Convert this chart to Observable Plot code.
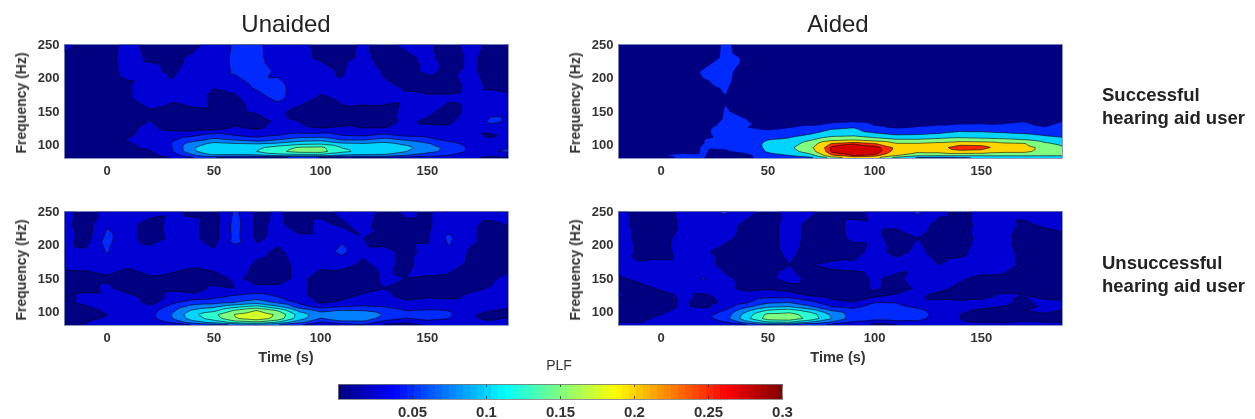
<!DOCTYPE html>
<html><head><meta charset="utf-8">
<script src="https://cdn.jsdelivr.net/npm/d3@7"></script>
<script src="https://cdn.jsdelivr.net/npm/@observablehq/plot@0.6"></script>
<style>
html,body{margin:0;padding:0;background:#fff;overflow:hidden}
#page{position:relative;width:1255px;height:419px;font-family:"Liberation Sans",Arial,sans-serif;color:#222;overflow:hidden}
#page svg{position:absolute;filter:blur(0.45px);background:transparent}
.t{position:absolute;white-space:nowrap;filter:blur(0.25px)}
.title{font-size:24px;transform:translateX(-50%);color:#222}
.side{font-size:18.5px;font-weight:bold;line-height:23px;color:#222}
.xl{font-size:14.5px;font-weight:bold;transform:translateX(-50%);color:#333}
.yl{font-size:14px;font-weight:bold;transform:translate(-50%,-50%) rotate(-90deg);color:#333}
.plf{font-size:14px;transform:translateX(-50%);color:#333}
</style></head><body><div id="page"></div>
<script>
const times=[-20,-10,0,10,20,30,40,50,60,70,80,90,100,110,120,130,140,150,160,170,180,190];
const freqs=[250,230,210,190,170,150,135,125,115,108,102,96,90,85,80];
const xTicks=[0,50,100,150];
const yTicks=[100,150,200,250];
const barTicks=[0.05,0.1,0.15,0.2,0.25,0.3];
const levelsUsual=[0,25,50,75,100,125,150,175];
const levelsAided=[0,50,100,150,200,250,275];
const linesAided=[100,150,200,250,275];
const unaidedSuccessful=[
[30,18,20,30,20,18,18,35,55,55,38,30,20,18,28,20,30,28,20,30,22,28],
[22,15,20,32,22,18,30,30,58,56,38,30,22,18,30,18,20,30,18,28,20,22],
[15,15,18,32,32,20,36,30,56,70,42,30,35,22,45,22,20,28,22,28,20,18],
[15,12,15,22,48,28,42,28,32,58,60,32,32,28,42,28,22,18,18,30,22,18],
[12,12,15,22,42,30,40,18,22,38,58,35,22,28,30,32,28,28,28,30,30,28],
[10,10,12,15,22,15,18,20,22,28,30,18,15,22,20,18,30,30,18,30,45,45],
[10,10,12,18,26,14,12,14,20,15,30,25,14,15,18,20,28,22,22,35,55,45],
[12,12,15,22,30,18,15,14,28,22,30,30,25,30,25,25,30,30,28,28,40,40],
[12,12,15,22,38,38,45,58,48,40,48,58,60,48,45,55,42,42,30,30,22,30],
[10,10,15,28,38,45,62,82,72,60,75,88,92,72,72,85,72,58,42,30,28,28],
[10,12,15,22,35,50,88,108,102,100,105,118,122,105,102,108,95,78,60,40,32,38],
[12,10,15,22,30,48,98,118,115,120,140,155,158,125,118,118,108,85,70,45,42,52],
[10,10,12,18,22,45,95,118,115,125,145,158,160,130,118,115,100,82,68,45,48,55],
[8,8,10,14,18,38,72,102,100,102,112,118,115,102,100,98,78,62,50,35,28,35],
[8,8,8,12,14,22,40,30,18,15,20,25,22,20,22,25,28,30,30,25,20,18]];
const aidedSuccessful=[
[20,20,20,20,20,58,30,20,20,20,20,20,20,20,20,20,20,20,20,20,20,20],
[20,20,20,20,20,60,45,20,20,20,20,20,20,20,20,20,20,20,20,20,20,20],
[20,20,20,20,56,62,30,20,20,20,20,20,20,20,20,20,20,20,20,20,20,20],
[20,20,20,20,45,58,20,20,20,20,20,20,20,20,20,20,20,20,20,20,20,20],
[20,20,20,20,25,48,20,20,20,20,20,20,20,20,20,20,20,20,20,20,20,20],
[20,20,20,20,20,52,42,20,20,20,20,20,20,20,20,20,20,20,20,20,20,30],
[20,20,20,20,35,55,52,30,30,30,35,45,30,30,30,30,30,30,35,48,25,55],
[20,20,20,30,45,60,50,45,50,62,95,105,60,45,55,65,78,80,72,70,55,62],
[25,28,35,40,45,58,58,62,82,105,135,140,118,100,102,110,125,120,115,108,95,85],
[20,25,30,40,50,55,70,100,112,145,185,195,175,155,155,165,170,165,160,150,125,110],
[15,20,30,40,50,52,75,110,125,175,255,278,255,205,205,215,235,232,210,205,160,130],
[15,15,25,40,52,55,70,110,140,190,285,295,290,245,215,235,275,270,225,215,190,150],
[15,15,25,42,52,42,60,105,128,175,280,298,292,235,210,215,235,230,210,210,180,160],
[15,15,48,56,52,35,35,85,105,135,255,285,275,215,170,165,165,165,165,165,160,155],
[15,15,30,52,50,30,35,55,55,75,150,210,200,110,65,60,70,80,90,95,110,155]];
const unaidedUnsuccessful=[
[32,18,32,30,32,28,22,18,55,20,28,18,20,30,35,18,30,22,30,38,40,50],
[30,15,48,30,18,30,30,15,60,20,30,15,30,22,32,15,20,20,42,30,18,28],
[35,15,58,30,18,28,30,15,58,22,30,30,30,45,25,18,22,22,55,30,15,20],
[32,28,52,35,32,35,32,28,40,30,22,32,35,58,28,30,20,30,48,22,15,18],
[30,30,35,28,38,32,28,35,35,22,18,30,28,30,22,30,20,35,38,18,15,18],
[15,18,22,15,22,20,15,14,30,18,18,30,18,15,15,28,25,22,18,18,20,40],
[15,18,30,15,18,22,15,30,25,30,30,30,18,15,18,25,15,25,14,18,28,45],
[22,30,28,30,14,30,30,40,50,58,45,30,15,18,28,32,12,20,15,30,35,42],
[18,35,35,40,15,42,60,62,72,85,68,42,20,28,42,38,30,35,35,35,38,45],
[25,22,38,25,30,58,85,95,118,135,105,62,40,50,52,50,40,42,45,35,32,28],
[20,15,30,25,38,68,105,120,155,178,150,95,70,78,75,62,50,52,50,30,25,20],
[12,15,25,25,42,75,118,145,178,192,172,115,85,98,98,72,55,60,55,28,18,18],
[15,22,28,30,40,72,112,135,172,188,165,110,72,92,92,60,48,58,50,28,22,30],
[18,25,30,32,35,58,90,112,140,150,125,85,50,65,68,40,28,40,35,30,28,32],
[18,25,30,30,28,20,40,50,60,65,58,42,18,30,40,18,15,22,28,30,30,30]];
const aidedUnsuccessful=[
[30,18,18,30,30,55,30,20,30,30,18,18,32,35,55,30,20,30,30,30,35,55],
[35,15,15,28,32,30,22,15,35,18,18,30,28,28,35,18,18,30,32,22,28,40],
[42,15,15,35,30,30,18,15,35,18,15,30,30,18,25,15,15,32,30,18,15,18],
[48,18,18,32,28,18,15,15,32,15,18,15,35,18,30,18,20,35,35,18,15,15],
[35,28,30,30,35,18,15,15,25,25,28,30,32,35,28,25,32,38,40,18,15,15],
[22,30,35,38,52,30,18,20,35,18,18,18,28,20,35,35,28,20,18,18,18,18],
[18,18,28,30,38,30,20,22,15,15,15,15,28,15,28,30,20,18,18,20,15,18],
[30,15,18,28,22,32,32,40,38,22,15,15,18,28,28,20,15,15,28,25,18,18],
[18,15,15,28,18,28,45,68,72,55,32,25,48,48,28,28,28,32,30,22,30,28],
[15,15,18,28,20,36,70,95,100,78,50,42,62,58,45,32,30,28,25,20,28,28],
[15,15,22,30,35,52,95,130,140,115,75,60,70,68,58,35,28,22,18,25,30,22],
[15,18,25,35,42,60,112,158,160,140,95,62,75,72,65,40,25,18,15,18,22,18],
[20,20,30,35,38,65,118,162,165,142,100,62,62,62,58,38,25,15,15,18,20,15],
[25,25,30,32,35,50,92,125,130,100,72,48,28,42,45,35,28,25,25,28,25,25],
[28,28,30,28,30,30,35,50,45,40,32,28,18,18,30,35,30,30,28,30,30,30]];

function jet(t){
  const c=v=>Math.round(255*Math.max(0,Math.min(1,v)));
  const r=1.5-Math.abs(4*t-3),g=1.5-Math.abs(4*t-2),b=1.5-Math.abs(4*t-1);
  return `rgb(${c(r)},${c(g)},${c(b)})`;
}
const page=document.getElementById("page");
const font={fontFamily:"'Liberation Sans',Arial,sans-serif",fontWeight:"bold",fontSize:"13px",color:"#333",overflow:"visible"};
const mL=64,mR=10,mT=8,mB=30,pw=444,ph=114;

function panel(matrix,left,top,levels,lines){
  const pts=freqs.flatMap((f,r)=>times.map((t,c)=>({t,f,v:matrix[r][c]})));
  const opts={x:"t",y:"f",value:"v",interpolate:"barycentric",clip:true};
  const svg=Plot.plot({
    width:pw+mL+mR,height:ph+mT+mB,marginLeft:mL,marginRight:mR,marginTop:mT,marginBottom:mB,
    style:font,
    x:{domain:[-20,188],label:null},
    y:{domain:[80,250],label:null},
    color:{type:"linear",domain:[0,300],interpolate:jet},
    marks:[
      ...levels.map(l=>Plot.contour(pts,{...opts,fill:d=>l,thresholds:[l]})),
      ...lines.map(l=>Plot.contour(pts,{...opts,stroke:"#000",fill:"none",strokeWidth:0.6,thresholds:[l]})),
      Plot.frame({stroke:"#7080b0",strokeWidth:0.8}),
      Plot.axisX({ticks:xTicks,tickSize:0,tickPadding:7,label:null}),
      Plot.axisY({ticks:yTicks,tickSize:0,tickPadding:5,label:null})
    ]
  });
  svg.style.left=(left-mL)+"px";
  svg.style.top=(top-mT)+"px";
  page.appendChild(svg);
}
panel(unaidedSuccessful,64,44,levelsUsual,levelsUsual.slice(1));
panel(aidedSuccessful,618,44,levelsAided,linesAided);
panel(unaidedUnsuccessful,64,211,levelsUsual,levelsUsual.slice(1));
panel(aidedUnsuccessful,618,211,levelsUsual,levelsUsual.slice(1));

const steps=d3.range(64);
const bar=Plot.plot({
  width:444+30+30,height:15+2+24,marginLeft:30,marginRight:30,marginTop:2,marginBottom:24,
  style:{...font,fontSize:"15px"},
  x:{domain:[0,0.3],label:null},
  y:{domain:[0,1],axis:null},
  marks:[
    Plot.rect(steps,{x1:d=>d*0.3/64,x2:d=>(d+1)*0.3/64,y1:0,y2:1,fill:d=>jet((d+0.5)/64),shapeRendering:"crispEdges"}),
    Plot.ruleX(barTicks,{y1:0,y2:0.2,stroke:"#222",strokeWidth:0.7}),
    Plot.ruleX(barTicks,{y1:0.8,y2:1,stroke:"#222",strokeWidth:0.7}),
    Plot.frame({stroke:"#777",strokeWidth:0.8}),
    Plot.axisX({ticks:barTicks,tickFormat:d=>String(+d.toFixed(2)),tickSize:0,tickPadding:7,label:null})
  ]
});
bar.style.left=(338-30)+"px";
bar.style.top=(384-2)+"px";
page.appendChild(bar);

const labels=[
  ["title","Unaided",286,10],
  ["title","Aided",838,10],
  ["side","Successful<br>hearing aid user",1102,83],
  ["side","Unsuccessful<br>hearing aid user",1102,251],
  ["xl","Time (s)",286,349],
  ["xl","Time (s)",838,349],
  ["plf","PLF",559,357],
  ["yl","Frequency (Hz)",21,103],
  ["yl","Frequency (Hz)",575,103],
  ["yl","Frequency (Hz)",21,270],
  ["yl","Frequency (Hz)",575,270]
];
for(const [c,txt,x,y] of labels){
  const d=document.createElement("div");
  d.className="t "+c;d.innerHTML=txt;d.style.left=x+"px";d.style.top=y+"px";page.appendChild(d);
}
</script></body></html>
